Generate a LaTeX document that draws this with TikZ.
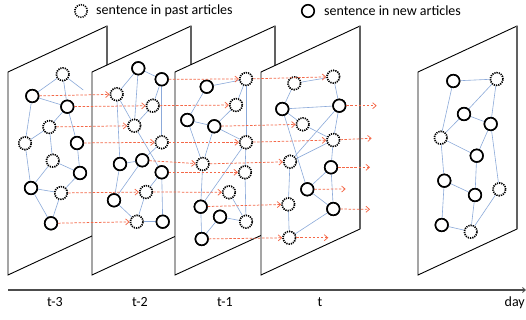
\documentclass[tikz,border=0pt]{standalone}
\usepackage{fontspec}
\setmainfont{Carlito}
\usetikzlibrary{arrows.meta}
\definecolor{edgeblue}{RGB}{140,170,218}
\definecolor{flowred}{RGB}{244,104,72}
\tikzset{
  x=1pt,y=-1pt,
  panel/.style={fill=white,draw=black,line width=0.9pt,line join=miter},
  rightedge/.style={draw=black!62,line width=1.5pt},
  sol/.style={circle,draw=black,fill=white,line width=1.6pt,minimum size=12.5pt,inner sep=0pt},
  pst/.style={circle,draw=black,fill=white,line width=1.6pt,dash pattern=on 1.1pt off 1.1pt,minimum size=12.5pt,inner sep=0pt},
  edge/.style={draw=edgeblue,line width=0.6pt},
  flow/.style={draw=flowred,line width=0.75pt,dash pattern=on 2.5pt off 1.6pt,-{Straight Barb[length=3.5pt,width=6pt,line width=0.75pt]}},
  lbl/.style={font=\fontsize{14}{16}\selectfont,inner sep=0pt}
}
\begin{document}
\begin{tikzpicture}
\useasboundingbox (0,0) rectangle (526,320);

% legend
\node[pst] (legp) at (81,11) {};
\node[lbl,anchor=west] (legpt) at (96,11) {sentence in past articles};
\node[sol] (legn) at (308,11) {};
\node[lbl,anchor=west] (legnt) at (324,11) {sentence in new articles};

% ---------- panel 1 ----------
\draw[panel] (8,72) -- (107,26) -- (107,229) -- (8,275) -- cycle;
\draw[rightedge] (107,26) -- (107,229);
\node[pst] (p1a) at (62.7,74.3) {};
\node[sol] (p1b) at (32.3,96) {};
\node[sol] (p1c) at (67.3,106.7) {};
\node[pst] (p1d) at (49.3,127) {};
\node[pst] (p1e) at (25,143.3) {};
\node[sol] (p1f) at (77,143) {};
\node[pst] (p1g) at (52.7,160.7) {};
\node[sol] (p1h) at (80,173) {};
\node[sol] (p1i) at (31,188) {};
\node[pst] (p1j) at (61,193) {};
\node[sol] (p1k) at (51,223.3) {};
\coordinate (p1x) at (83.3,90);
\foreach \u/\v in {p1a/p1b,p1a/p1c,p1a/p1x,p1b/p1c,p1b/p1e,p1c/p1d,p1c/p1f,p1d/p1e,p1d/p1g,p1e/p1i,p1g/p1i,p1g/p1h,p1f/p1h,p1i/p1j,p1i/p1k,p1h/p1j,p1j/p1k}
  \draw[edge] (\u) -- (\v);
\foreach \n in {p1a,p1d,p1e,p1g,p1j} \node[pst] at (\n) {};
\foreach \n in {p1b,p1c,p1f,p1h,p1i,p1k} \node[sol] at (\n) {};

% ---------- panel 2 ----------
\draw[panel] (92,72) -- (191,26) -- (191,229) -- (92,275) -- cycle;
\draw[rightedge] (191,26) -- (191,229);
\node[sol] (p2a) at (138.3,68.3) {};
\node[sol] (p2b) at (161.7,79.3) {};
\node[pst] (p2c) at (116.7,94.3) {};
\node[pst] (p2d) at (152.7,105.7) {};
\node[pst] (p2e) at (134.3,125.7) {};
\node[pst] (p2f) at (161.7,142.3) {};
\node[sol] (p2g) at (120,164) {};
\node[sol] (p2h) at (142.3,160.3) {};
\node[sol] (p2i) at (161.7,172.3) {};
\node[pst] (p2j) at (146,192) {};
\node[sol] (p2k) at (114,200.3) {};
\node[pst] (p2l) at (136.7,221.7) {};
\node[sol] (p2m) at (162.7,221.7) {};
\foreach \u/\v in {p2a/p2c,p2a/p2e,p2a/p2b,p2b/p2d,p2b/p2f,p2c/p2e,p2c/p2g,p2g/p2k,p2d/p2e,p2e/p2i,p2f/p2h,p2g/p2h,p2h/p2k,p2i/p2j,p2i/p2m,p2j/p2l,p2k/p2l,p2l/p2m}
  \draw[edge] (\u) -- (\v);
\foreach \n in {p2c,p2d,p2e,p2f,p2j,p2l} \node[pst] at (\n) {};
\foreach \n in {p2a,p2b,p2g,p2h,p2i,p2k,p2m} \node[sol] at (\n) {};

% ---------- panel 3 ----------
\draw[panel] (175,72) -- (275,26) -- (275,229) -- (175,275) -- cycle;
\draw[rightedge] (275,26) -- (275,229);
\node[sol] (p3a) at (206.7,86.7) {};
\node[pst] (p3b) at (246,79) {};
\node[pst] (p3c) at (236,105) {};
\node[sol] (p3d) at (187.3,120) {};
\node[sol] (p3e) at (214.3,126.3) {};
\node[pst] (p3f) at (246,142.3) {};
\node[pst] (p3g) at (202.7,164) {};
\node[pst] (p3h) at (245,172.3) {};
\node[pst] (p3i) at (229,192.3) {};
\node[sol] (p3j) at (200.7,206.7) {};
\node[sol] (p3k) at (220,216.7) {};
\node[pst] (p3l) at (246,221.7) {};
\node[sol] (p3m) at (201.7,239) {};
\foreach \u/\v in {p3a/p3b,p3a/p3d,p3b/p3c,p3b/p3f,p3f/p3h,p3h/p3l,p3c/p3e,p3d/p3e,p3d/p3g,p3e/p3g,p3e/p3f,p3f/p3j,p3g/p3j,p3i/p3l,p3k/p3l,p3j/p3m,p3k/p3m}
  \draw[edge] (\u) -- (\v);
\foreach \n in {p3b,p3c,p3f,p3g,p3h,p3i,p3l} \node[pst] at (\n) {};
\foreach \n in {p3a,p3d,p3e,p3j,p3k,p3m} \node[sol] at (\n) {};

% ---------- panel 4 ----------
\draw[panel] (261,72) -- (360,26) -- (360,229) -- (261,275) -- cycle;
\draw[rightedge] (360,26) -- (360,229);
\node[pst] (p4a) at (294.3,83.3) {};
\node[pst] (p4b) at (333.3,76.7) {};
\node[sol] (p4c) at (282.3,109) {};
\node[sol] (p4d) at (339.3,105.7) {};
\node[pst] (p4e) at (302.7,124.3) {};
\node[pst] (p4f) at (333.3,140) {};
\node[pst] (p4g) at (290,161.7) {};
\node[sol] (p4h) at (331,167.3) {};
\node[sol] (p4i) at (307.3,189.3) {};
\node[pst] (p4j) at (288.3,204.3) {};
\node[sol] (p4k) at (333.3,209) {};
\node[pst] (p4l) at (289.3,237.7) {};
\foreach \u/\v in {p4a/p4b,p4a/p4c,p4c/p4d,p4c/p4e,p4c/p4i,p4b/p4d,p4d/p4f,p4d/p4g,p4e/p4f,p4f/p4g,p4f/p4h,p4g/p4j,p4h/p4i,p4h/p4k,p4i/p4k,p4j/p4l,p4k/p4l}
  \draw[edge] (\u) -- (\v);
\foreach \n in {p4a,p4b,p4e,p4f,p4g,p4j,p4l} \node[pst] at (\n) {};
\foreach \n in {p4c,p4d,p4h,p4i,p4k} \node[sol] at (\n) {};

% ---------- panel 5 ----------
\draw[panel] (418,72) -- (517,26) -- (517,229) -- (418,275) -- cycle;
\draw[rightedge] (517,26) -- (517,229);
\node[sol] (p5a) at (453.3,81) {};
\node[pst] (p5b) at (496.7,79) {};
\node[sol] (p5c) at (464,114) {};
\node[sol] (p5d) at (490.7,124) {};
\node[pst] (p5e) at (440.7,137.7) {};
\node[sol] (p5f) at (476.7,155.7) {};
\node[sol] (p5g) at (444.3,180.7) {};
\node[pst] (p5h) at (499.3,189.3) {};
\node[sol] (p5i) at (475,195) {};
\node[sol] (p5j) at (441.7,225) {};
\node[pst] (p5k) at (470.7,231.7) {};
\foreach \u/\v in {p5a/p5b,p5a/p5e,p5b/p5c,p5b/p5d,p5c/p5d,p5c/p5e,p5e/p5f,p5d/p5f,p5d/p5h,p5e/p5g,p5f/p5i,p5g/p5i,p5g/p5j,p5i/p5k,p5h/p5k,p5j/p5k}
  \draw[edge] (\u) -- (\v);
\foreach \n in {p5b,p5e,p5h,p5k} \node[pst] at (\n) {};
\foreach \n in {p5a,p5c,p5d,p5f,p5g,p5i,p5j} \node[sol] at (\n) {};

% ---------- flows ----------
\coordinate (o1) at (376.7,105.7);
\coordinate (o2) at (371.7,138.3);
\coordinate (o3) at (370,167.3);
\coordinate (o4) at (345.7,189);
\coordinate (o5) at (370,209.3);
\coordinate (o6) at (328.3,237.7);
\foreach \u/\v in {p1b/p2c,p1c/p2d,p1d/p2e,p1f/p2f,p1j/p2j,p1k/p2l,
                   p2b/p3b,p2d/p3c,p2f/p3f,p2h/p3g,p2i/p3h,p2j/p3i,
                   p3b/p4b,p3e/p4e,p3f/p4f,p3g/p4g,p3j/p4j,p3m/p4l,
                   p4d/o1,p4f/o2,p4h/o3,p4i/o4,p4k/o5,p4l/o6}
  \draw[flow] (\u) -- (\v);

% ---------- time axis ----------
\coordinate (ax0) at (8,290);
\coordinate (ax1) at (526,290);
\draw[draw=black!70,line width=1.3pt,-{Straight Barb[length=3pt,width=5pt,line width=0.8pt]}] (ax0) -- (ax1);
\node[lbl] (t3) at (55,302) {t-3};
\node[lbl] (t2) at (140,302) {t-2};
\node[lbl] (t1) at (225,302) {t-1};
\node[lbl] (t0) at (320,302) {t};
\node[lbl,anchor=east] (td) at (525,303) {day};
\end{tikzpicture}
\end{document}
